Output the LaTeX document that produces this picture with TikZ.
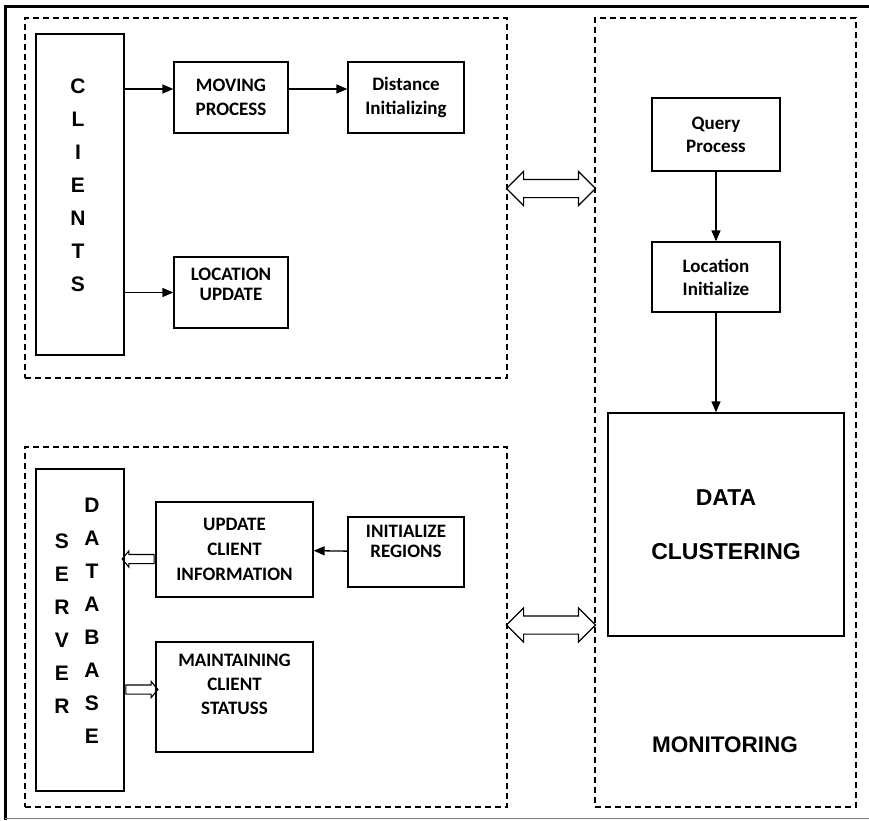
\documentclass[tikz,border=0pt]{standalone}
\usepackage{fontspec}
\setmainfont{Carlito}
\newfontfamily\arialfont{Liberation Sans}
\usetikzlibrary{arrows.meta,shapes.arrows}

\begin{document}
\begin{tikzpicture}[x=1pt, y=-1pt, >={Triangle[length=11pt,width=9pt]},
    box/.style={draw, line width=1.3pt, align=center, inner sep=0pt,
        font=\fontsize{19}{24}\selectfont\bfseries},
    group/.style={draw, line width=1.3pt, dash pattern=on 6pt off 4pt, inner sep=0pt},
    letters/.style={align=center, inner sep=0pt,
        font=\arialfont\fontsize{21}{33}\selectfont\bfseries},
    arr/.style={->, line width=1.3pt},
    biglink/.style={double arrow, draw, line width=1.2pt, inner xsep=0pt, inner ysep=8.5pt,
        minimum height=89pt, double arrow head extend=8pt},
    smalllink/.style={single arrow, draw, line width=1.1pt, inner xsep=0pt, inner ysep=4pt,
        minimum height=32pt, single arrow head extend=3.5pt,
        single arrow tip angle=100}]

    \useasboundingbox (0,0) rectangle (869,820);

    % Page frame
    \draw[line width=3pt] (869,6.5) -- (5,6.5) -- (5,820);
    \draw[gray, line width=1pt] (5,818.5) -- (869,818.5);

    % Dashed groups
    \node[group, minimum width=482pt, minimum height=360pt] (clientgrp) at (266,198) {};
    \node[group, minimum width=482pt, minimum height=360pt] (servergrp) at (266,627) {};
    \node[group, minimum width=261pt, minimum height=789pt] (monitorgrp) at (725.5,412.5) {};

    % Clients side
    \node[box, minimum width=88pt, minimum height=321pt] (clients) at (80,194.5) {};
    \node[letters] (clientstxt) at (78,185) {C\\L\\I\\E\\N\\T\\S};
    \node[box, minimum width=114pt, minimum height=71pt] (moving) at (231,97.5) {MOVING\\PROCESS};
    \node[box, minimum width=116pt, minimum height=71pt] (distance) at (406,97.5) {Distance\\Initializing};
    \node[box, minimum width=114pt, minimum height=71pt, text depth=16pt] (locupdate) at (231,292.5) {LOCATION\\[-4pt]UPDATE};

    % Monitoring side
    \node[box, minimum width=128pt, minimum height=73pt] (query) at (716,134.5) {Query\\[-1pt]Process};
    \node[box, minimum width=128pt, minimum height=70pt] (locinit) at (716,277) {Location\\[-1pt]Initialize};
    \node[box, minimum width=236pt, minimum height=223pt,
        font=\arialfont\fontsize{23}{54}\selectfont\bfseries] (clustering) at (726,524.5) {DATA\\CLUSTERING};
    \node[font=\arialfont\fontsize{22.5}{27}\selectfont\bfseries] (monitoring) at (725,745) {MONITORING};

    % Server side
    \node[box, minimum width=88pt, minimum height=322pt] (server) at (80,630) {};
    \node[letters] (servertxt) at (62,624) {S\\E\\R\\V\\E\\R};
    \node[letters] (dbtxt) at (92,621) {D\\A\\T\\A\\B\\A\\S\\E};
    \node[box, minimum width=157pt, minimum height=95pt] (updclient) at (234.5,549.5) {UPDATE\\[1pt]CLIENT\\[1pt]INFORMATION};
    \node[box, minimum width=116pt, minimum height=70pt, text depth=22pt] (initregions) at (406,552) {INITIALIZE\\[-4pt]REGIONS};
    \node[box, minimum width=157pt, minimum height=110pt, text depth=26pt] (maintain) at (234.5,697) {MAINTAINING\\CLIENT\\STATUSS};

    % Arrows
    \coordinate (mvline) at ([yshift=8.5pt]moving.west);
    \draw[arr] (clients.east |- mvline) -- (mvline);
    \draw[arr] (moving.east |- mvline) -- (distance.west |- mvline);
    \draw[arr] (clients.east |- locupdate.west) -- (locupdate.west);
    \draw[arr] (query) -- (locinit);
    \draw[arr] (locinit.south) -- (locinit.south |- clustering.north);
    \draw[arr] (initregions) -- (updclient);

    % Hollow links
    \path (updclient.west |- 0,559) -- (server.east |- 0,559)
        node[midway, smalllink, shape border rotate=180] (toserver) {};
    \path (server.east |- 0,689.5) -- (maintain.west |- 0,689.5)
        node[midway, smalllink] (tomaintain) {};
    \path (clientgrp.east |- 0,188.5) -- (monitorgrp.west |- 0,188.5)
        node[midway, biglink] (link1) {};
    \path (servergrp.east |- 0,625) -- (monitorgrp.west |- 0,625)
        node[midway, biglink] (link2) {};

\end{tikzpicture}
\end{document}
